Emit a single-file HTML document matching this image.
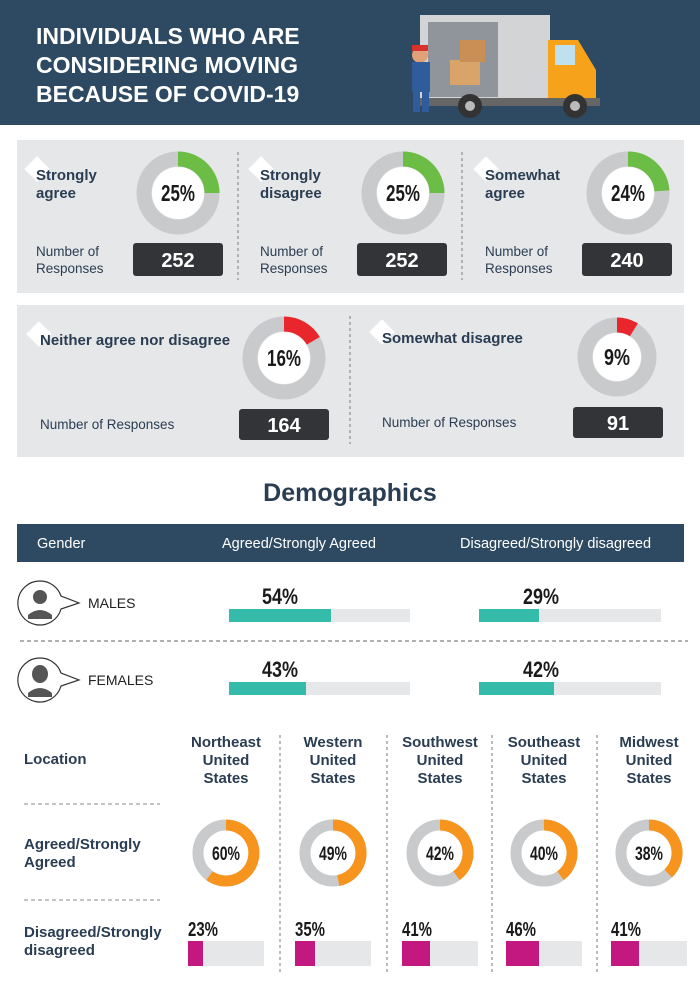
<!DOCTYPE html>
<html><head><meta charset="utf-8"><style>
body{margin:0;background:#fff}
svg{display:block;font-family:"Liberation Sans",sans-serif}
.lb{font-size:15px;font-weight:bold;fill:#2a3d52}
.sm{font-size:13.5px;fill:#2a3d52}
.pc{font-family:"Liberation Sans Narrow","Liberation Sans",sans-serif;font-weight:bold;fill:#1a1a1a}
.hd{font-size:15px;font-weight:bold;fill:#2a3d52}
</style></head><body>
<svg width="700" height="989" viewBox="0 0 700 989">
<rect x="0" y="0" width="700" height="125" fill="#2d4a62"/>
<g font-size="23" font-weight="bold" fill="#fff">
<text x="36" y="44">INDIVIDUALS WHO ARE</text>
<text x="36" y="73">CONSIDERING MOVING</text>
<text x="36" y="102">BECAUSE OF COVID-19</text>
</g>
<rect x="420" y="15" width="130" height="85" fill="#d3d4d6"/>
<rect x="428" y="22" width="70" height="75" fill="#8f959b"/>
<path d="M548 40 h30 l18 30 v32 h-48z" fill="#f7a21b"/>
<rect x="555" y="45" width="20" height="20" fill="#bfe1ef"/>
<rect x="420" y="98" width="180" height="8" fill="#666"/>
<circle cx="470" cy="106" r="12" fill="#333"/><circle cx="470" cy="106" r="5" fill="#bbb"/>
<circle cx="575" cy="106" r="12" fill="#333"/><circle cx="575" cy="106" r="5" fill="#bbb"/>
<rect x="450" y="60" width="30" height="25" fill="#d9a46a"/><rect x="460" y="40" width="25" height="22" fill="#c98f55"/>
<circle cx="420" cy="55" r="8" fill="#e0a07a"/><rect x="412" y="62" width="18" height="30" fill="#2f5d9c"/><rect x="413" y="90" width="7" height="22" fill="#2f5d9c"/><rect x="422" y="90" width="7" height="22" fill="#2f5d9c"/>
<rect x="412" y="45" width="16" height="6" fill="#d8322d"/>

<rect x="17" y="140" width="667" height="153" fill="#e6e7e9"/>
<rect x="17" y="305" width="667" height="152" fill="#e6e7e9"/>
<g stroke="#777" stroke-dasharray="3,3" stroke-width="1"><line x1="238" y1="152" x2="238" y2="280"/><line x1="462" y1="152" x2="462" y2="280"/><line x1="350" y1="316" x2="350" y2="444"/></g>
<g fill="#fff">
<rect x="28" y="160" width="18" height="18" transform="rotate(45 37 169)"/>
<rect x="252" y="160" width="18" height="18" transform="rotate(45 261 169)"/>
<rect x="477" y="160" width="18" height="18" transform="rotate(45 486 169)"/>
<rect x="30" y="325" width="18" height="18" transform="rotate(45 39 334)"/>
<rect x="373" y="323" width="18" height="18" transform="rotate(45 382 332)"/>
</g>
<text class="lb" x="36" y="180">Strongly</text><text class="lb" x="36" y="198">agree</text>
<text class="lb" x="260" y="180">Strongly</text><text class="lb" x="260" y="198">disagree</text>
<text class="lb" x="485" y="180">Somewhat</text><text class="lb" x="485" y="198">agree</text>
<text class="lb" x="40" y="345">Neither agree nor disagree</text>
<text class="lb" x="382" y="343">Somewhat disagree</text>
<text class="sm" x="36" y="256">Number of</text><text class="sm" x="36" y="273">Responses</text>
<text class="sm" x="260" y="256">Number of</text><text class="sm" x="260" y="273">Responses</text>
<text class="sm" x="485" y="256">Number of</text><text class="sm" x="485" y="273">Responses</text>
<text class="sm" x="40" y="429">Number of Responses</text>
<text class="sm" x="382" y="427">Number of Responses</text>
<g fill="#333438"><rect x="133" y="243" width="90" height="33" rx="3"/><rect x="357" y="243" width="90" height="33" rx="3"/><rect x="582" y="243" width="90" height="33" rx="3"/>
<rect x="239" y="409" width="90" height="31" rx="3"/><rect x="573" y="407" width="90" height="31" rx="3"/></g>
<g fill="#fff" font-size="20" font-weight="bold" text-anchor="middle"><text x="178" y="267">252</text><text x="402" y="267">252</text><text x="627" y="267">240</text><text x="284" y="432">164</text><text x="618" y="430">91</text></g>

<g fill="none" stroke-width="15">
<circle cx="178" cy="193" r="34" stroke="#c9cacc"/><path d="M178 159 A34 34 0 0 1 212 193" stroke="#6cbd45"/>
<circle cx="403" cy="193" r="34" stroke="#c9cacc"/><path d="M403 159 A34 34 0 0 1 437 193" stroke="#6cbd45"/>
<circle cx="628" cy="193" r="34" stroke="#c9cacc"/><path d="M628 159 A34 34 0 0 1 661.9 190.9" stroke="#6cbd45"/>
<circle cx="284" cy="358" r="34" stroke="#c9cacc"/><path d="M284 324 A34 34 0 0 1 313.3 340.8" stroke="#e8262b"/>
<circle cx="617" cy="357" r="32" stroke="#c9cacc"/><path d="M617 325 A32 32 0 0 1 633.9 329.8" stroke="#e8262b"/>
</g>
<g fill="#fff"><circle cx="178" cy="193" r="26"/><circle cx="403" cy="193" r="26"/><circle cx="628" cy="193" r="26"/><circle cx="284" cy="358" r="26"/><circle cx="617" cy="357" r="24"/></g>
<g class="pc" font-size="23" text-anchor="middle"><text x="178" y="201" textLength="34" lengthAdjust="spacingAndGlyphs">25%</text><text x="403" y="201" textLength="34" lengthAdjust="spacingAndGlyphs">25%</text><text x="628" y="201" textLength="34" lengthAdjust="spacingAndGlyphs">24%</text><text x="284" y="366" textLength="34" lengthAdjust="spacingAndGlyphs">16%</text><text x="617" y="365" textLength="26" lengthAdjust="spacingAndGlyphs">9%</text></g>

<text x="350" y="501" text-anchor="middle" font-size="25" font-weight="bold" fill="#2a3d52">Demographics</text>
<rect x="17" y="524" width="667" height="38" fill="#2d4a62"/>
<g fill="#fff" font-size="14.5"><text x="37" y="548">Gender</text><text x="222" y="548">Agreed/Strongly Agreed</text><text x="460" y="548">Disagreed/Strongly disagreed</text></g>

<g fill="#fff" stroke="#333" stroke-width="1.2">
<path d="M40 581 a22 22 0 1 0 21 28 l18 -6 l-18 -7 a22 22 0 0 0 -21 -15z"/>
<path d="M40 658 a22 22 0 1 0 21 28 l18 -6 l-18 -7 a22 22 0 0 0 -21 -15z"/>
</g>
<g fill="#555"><circle cx="40" cy="597" r="7"/><path d="M28 615 q12 -10 24 0 v4 h-24z"/>
<ellipse cx="40" cy="674" rx="8" ry="9"/><path d="M28 693 q12 -10 24 0 v4 h-24z"/></g>
<g font-size="14" fill="#222"><text x="88" y="608">MALES</text><text x="88" y="685">FEMALES</text></g>
<g fill="#e6e7e9"><rect x="229" y="609" width="181" height="13"/><rect x="479" y="609" width="182" height="13"/><rect x="229" y="682" width="181" height="13"/><rect x="479" y="682" width="182" height="13"/></g>
<g fill="#35bba9"><rect x="229" y="609" width="102" height="13"/><rect x="479" y="609" width="60" height="13"/><rect x="229" y="682" width="77" height="13"/><rect x="479" y="682" width="75" height="13"/></g>
<g class="pc" font-size="22" text-anchor="middle"><text x="280" y="604" textLength="36" lengthAdjust="spacingAndGlyphs">54%</text><text x="541" y="604" textLength="36" lengthAdjust="spacingAndGlyphs">29%</text><text x="280" y="677" textLength="36" lengthAdjust="spacingAndGlyphs">43%</text><text x="541" y="677" textLength="36" lengthAdjust="spacingAndGlyphs">42%</text></g>
<line x1="20" y1="641" x2="688" y2="641" stroke="#666" stroke-dasharray="4,3"/>

<text class="hd" x="24" y="764">Location</text>
<g class="hd" text-anchor="middle">
<text x="226" y="747">Northeast</text><text x="226" y="765">United</text><text x="226" y="783">States</text>
<text x="333" y="747">Western</text><text x="333" y="765">United</text><text x="333" y="783">States</text>
<text x="440" y="747">Southwest</text><text x="440" y="765">United</text><text x="440" y="783">States</text>
<text x="544" y="747">Southeast</text><text x="544" y="765">United</text><text x="544" y="783">States</text>
<text x="649" y="747">Midwest</text><text x="649" y="765">United</text><text x="649" y="783">States</text>
</g>
<g stroke="#888" stroke-dasharray="4,3"><line x1="24" y1="804" x2="160" y2="804"/><line x1="24" y1="900" x2="160" y2="900"/></g>
<g stroke="#777" stroke-dasharray="3,3"><line x1="280" y1="735" x2="280" y2="975"/><line x1="387" y1="735" x2="387" y2="975"/><line x1="492" y1="735" x2="492" y2="975"/><line x1="597" y1="735" x2="597" y2="975"/></g>
<text class="hd" x="24" y="849">Agreed/Strongly</text><text class="hd" x="24" y="867">Agreed</text>
<text class="hd" x="24" y="937">Disagreed/Strongly</text><text class="hd" x="24" y="955">disagreed</text>

<g fill="none" stroke-width="11">
<circle cx="226" cy="853" r="28" stroke="#c9cacc"/><path d="M226 825 A28 28 0 1 1 209.5 875.7" stroke="#f7941d"/>
<circle cx="333" cy="853" r="28" stroke="#c9cacc"/><path d="M333 825 A28 28 0 0 1 338.3 880.5" stroke="#f7941d"/>
<circle cx="440" cy="853" r="28" stroke="#c9cacc"/><path d="M440 825 A28 28 0 0 1 456.5 875.7" stroke="#f7941d"/>
<circle cx="544" cy="853" r="28" stroke="#c9cacc"/><path d="M544 825 A28 28 0 0 1 560.5 875.7" stroke="#f7941d" stroke-dasharray="71 200"/>
<circle cx="649" cy="853" r="28" stroke="#c9cacc"/><path d="M649 825 A28 28 0 0 1 665.5 875.7" stroke="#f7941d" stroke-dasharray="67 200"/>
</g>
<g fill="#fff"><circle cx="226" cy="853" r="22"/><circle cx="333" cy="853" r="22"/><circle cx="440" cy="853" r="22"/><circle cx="544" cy="853" r="22"/><circle cx="649" cy="853" r="22"/></g>
<g class="pc" font-size="19" text-anchor="middle"><text x="226" y="860" textLength="28" lengthAdjust="spacingAndGlyphs">60%</text><text x="333" y="860" textLength="28" lengthAdjust="spacingAndGlyphs">49%</text><text x="440" y="860" textLength="28" lengthAdjust="spacingAndGlyphs">42%</text><text x="544" y="860" textLength="28" lengthAdjust="spacingAndGlyphs">40%</text><text x="649" y="860" textLength="28" lengthAdjust="spacingAndGlyphs">38%</text></g>

<g fill="#e6e7e9"><rect x="188" y="941" width="76" height="25"/><rect x="295" y="941" width="76" height="25"/><rect x="402" y="941" width="76" height="25"/><rect x="506" y="941" width="76" height="25"/><rect x="611" y="941" width="76" height="25"/></g>
<g fill="#c2187f"><rect x="188" y="941" width="15" height="25"/><rect x="295" y="941" width="20" height="25"/><rect x="402" y="941" width="28" height="25"/><rect x="506" y="941" width="33" height="25"/><rect x="611" y="941" width="28" height="25"/></g>
<g class="pc" font-size="20" fill="#2a3d52"><text x="188" y="936" textLength="30" lengthAdjust="spacingAndGlyphs">23%</text><text x="295" y="936" textLength="30" lengthAdjust="spacingAndGlyphs">35%</text><text x="402" y="936" textLength="30" lengthAdjust="spacingAndGlyphs">41%</text><text x="506" y="936" textLength="30" lengthAdjust="spacingAndGlyphs">46%</text><text x="611" y="936" textLength="30" lengthAdjust="spacingAndGlyphs">41%</text></g>
</svg>
</body></html>
